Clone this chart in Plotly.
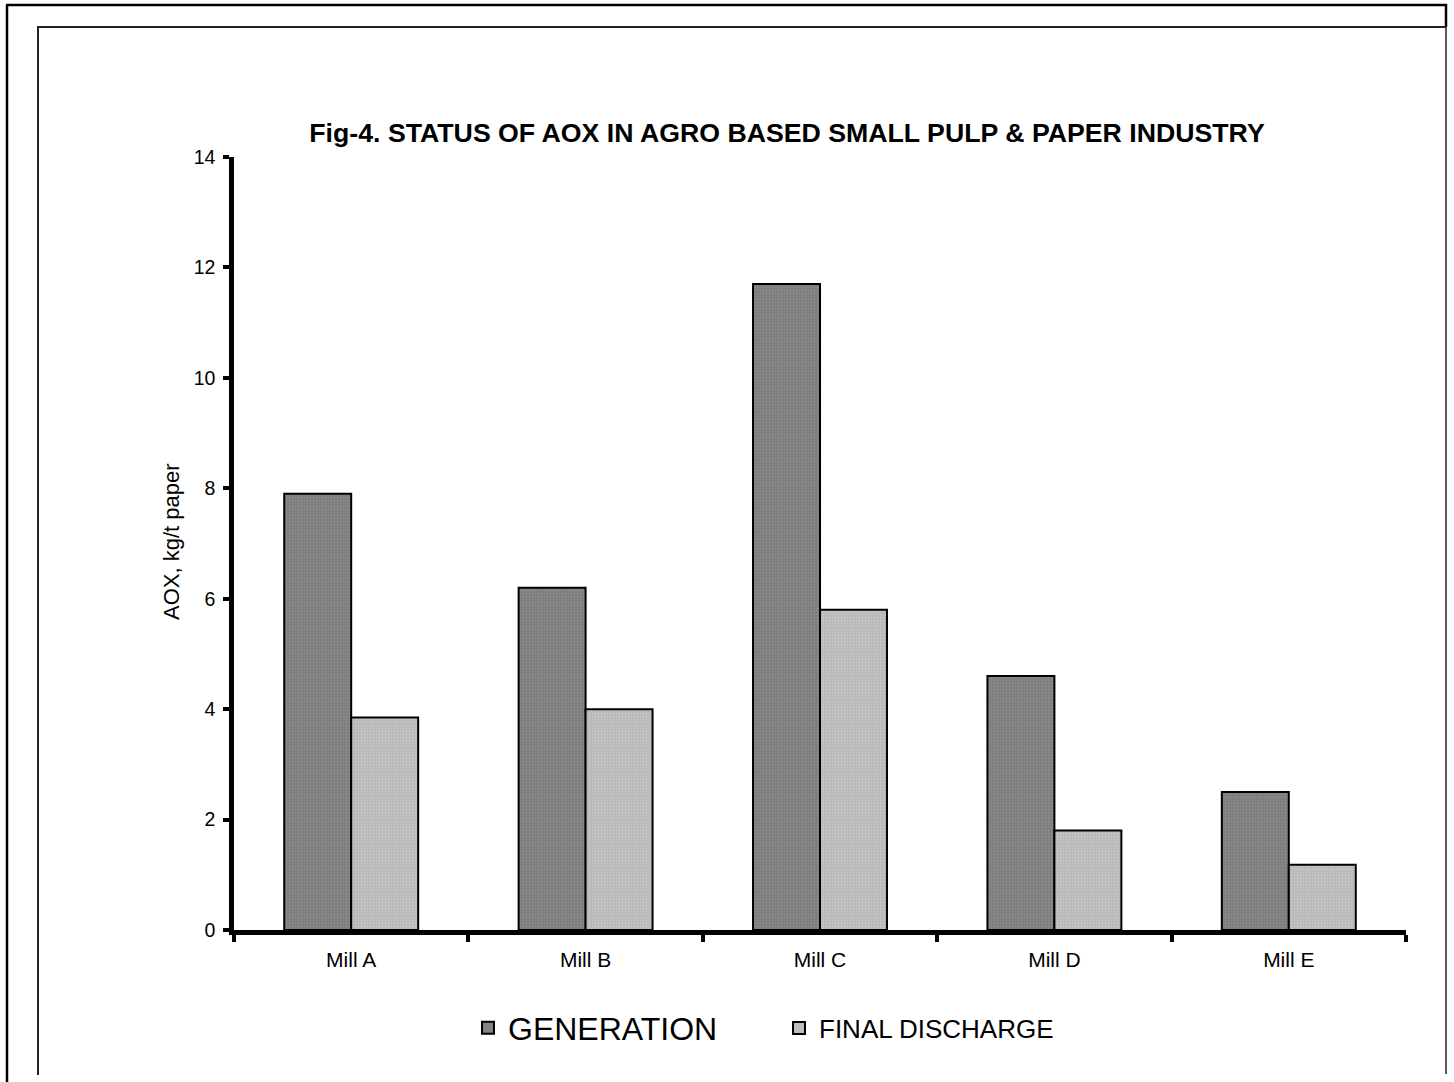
import plotly.graph_objects as go

# ---- data ----
mills = ["Mill A", "Mill B", "Mill C", "Mill D", "Mill E"]
generation = [7.9, 6.2, 11.7, 4.6, 2.5]
final_discharge = [3.85, 4.0, 5.8, 1.8, 1.18]
y_ticks = [0, 2, 4, 6, 8, 10, 12, 14]

W, H = 1454, 1082
L, R, T, B = 234, 1406, 157, 930  # plot area in pixels

def px(x):
    return (x - L) / (R - L)

def py(y):
    return (B - y) / (B - T)

FONT = "Arial, Liberation Sans, sans-serif"

fig = go.Figure()
fig.add_trace(go.Bar(
    x=mills, y=generation, name="GENERATION", legend="legend", showlegend=True,
    marker=dict(color="#858585", line=dict(color="black", width=2),
                pattern=dict(shape=".", fgcolor="#a0a0a0", bgcolor="#7c7c7c", size=3, solidity=0.35)),
))
fig.add_trace(go.Bar(
    x=mills, y=final_discharge, name="FINAL DISCHARGE", legend="legend2", showlegend=True,
    marker=dict(color="#c0c0c0", line=dict(color="black", width=2),
                pattern=dict(shape=".", fgcolor="#d8d8d8", bgcolor="#b8b8b8", size=3, solidity=0.35)),
))

shapes = []
def seg(x0, y0, x1, y1, w=2, c="black"):
    shapes.append(dict(type="line", xref="paper", yref="paper",
                       x0=px(x0), y0=py(y0), x1=px(x1), y1=py(y1),
                       line=dict(color=c, width=w)))
# outer frame
seg(7, 5, 7, 1090, 2.5)
seg(6, 5, 1447, 5, 2.5)
seg(1446, 4, 1446, 27, 2.5)
# inner frame
seg(38, 27, 38, 1075, 2, "#222")
seg(37, 27, 1446, 27, 2, "#222")
seg(1446, 27, 1446, 1074, 1.5, "#222")

fig.update_layout(
    width=W, height=H,
    margin=dict(l=L, r=W - R, t=T, b=H - B, pad=0),
    paper_bgcolor="white", plot_bgcolor="white",
    showlegend=True,
    barmode="group", bargap=1.5 / 3.5, bargroupgap=0,
    font=dict(family=FONT, color="black"),
    title=dict(text="<b>Fig-4. STATUS OF AOX IN AGRO BASED SMALL PULP &amp; PAPER INDUSTRY</b>",
               font=dict(size=26.7, family=FONT, color="black"),
               x=px(787), xref="paper", xanchor="center",
               y=1 - 133 / H, yref="container", yanchor="middle"),
    xaxis=dict(type="category", range=[-0.5, 4.5], showline=True, linecolor="black", linewidth=4.5,
               ticks="outside", tickson="boundaries", ticklen=7, tickwidth=3.5, tickcolor="black",
               tickfont=dict(size=21), showgrid=False, zeroline=False, ticklabelstandoff=7),
    yaxis=dict(range=[0, 14], tickvals=y_ticks, showline=True, linecolor="black", linewidth=4.5,
               ticks="outside", ticklen=6, tickwidth=3.5, tickcolor="black",
               tickfont=dict(size=19.5), showgrid=False, zeroline=False, ticklabelstandoff=4),
    legend=dict(orientation="h", x=px(468), xanchor="left", y=py(1028), yanchor="middle",
                font=dict(size=32, family=FONT), bgcolor="rgba(0,0,0,0)"),
    legend2=dict(orientation="h", x=px(779), xanchor="left", y=py(1028), yanchor="middle",
                 font=dict(size=26, family=FONT), bgcolor="rgba(0,0,0,0)"),
    shapes=shapes,
    annotations=[dict(text="AOX, kg/t paper", xref="paper", yref="paper",
                      x=px(171), y=py(542), xanchor="center", yanchor="middle",
                      textangle=-90, showarrow=False, font=dict(size=22, family=FONT))],
)

fig.write_html("out.html", config={"displayModeBar": False},
               post_script="document.body.style.margin='0';document.body.style.overflow='hidden';")
